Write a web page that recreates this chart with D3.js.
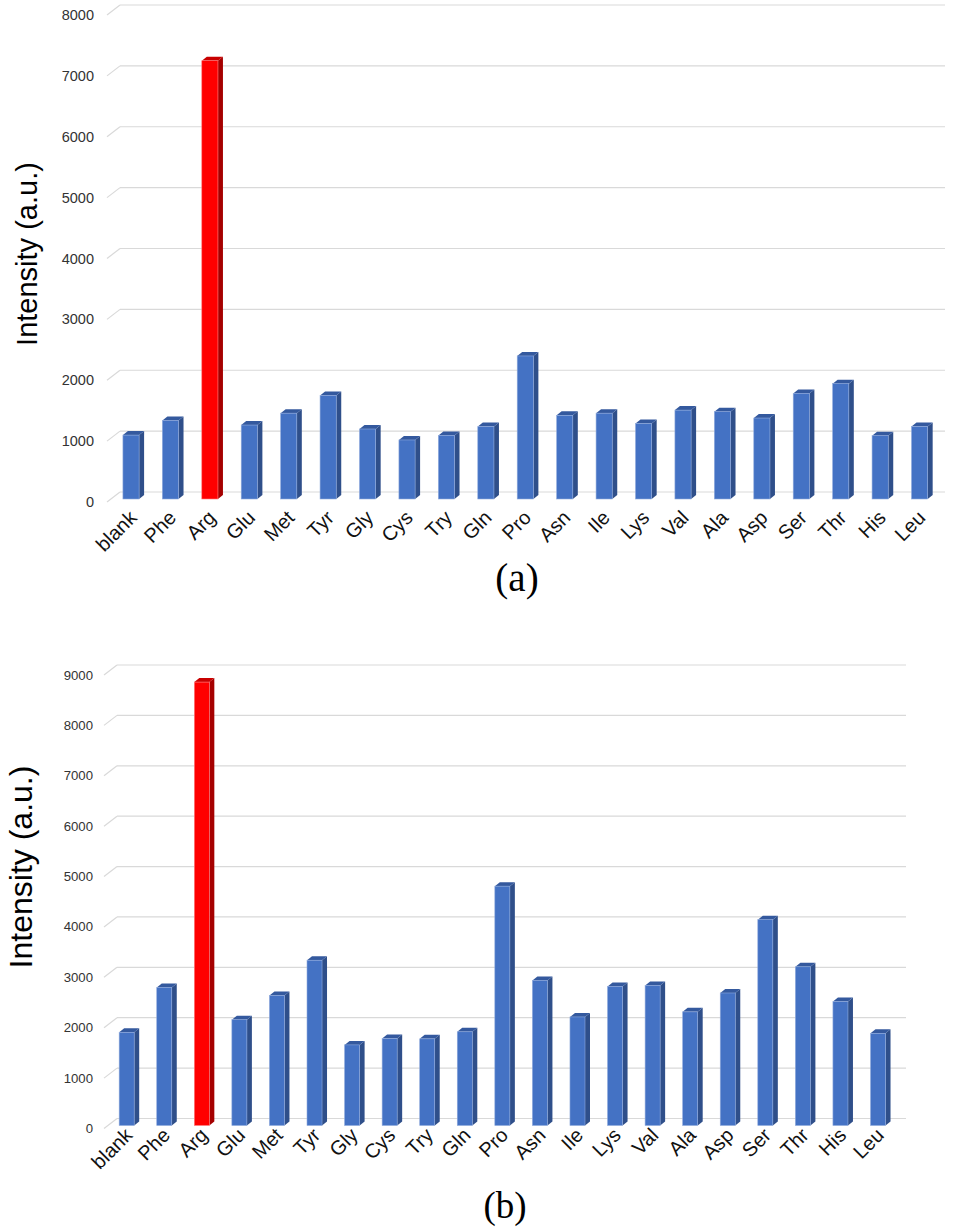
<!DOCTYPE html>
<html lang='en'>
	<head>
		<title>Intensity bars</title>
		<meta charset=utf-8>
		<script src="https://cdn.jsdelivr.net/npm/d3@7"></script>
		<style>
			body {
				margin: 0;
				background-color: white;
			}
			svg {
				display: block;
			}
			.tick-label {
				font-family: "Liberation Sans", Arial, sans-serif;
				fill: #333;
			}
			.cat-label {
				font-family: "Liberation Sans", Arial, sans-serif;
				fill: #111;
			}
			.caption {
				font-family: "Liberation Serif", "Times New Roman", serif;
				fill: #000;
			}
		</style>
	</head>
	<body>
		<svg id='chart' width="953" height="1230"></svg>
	</body>

	<script>
		// data
		var categories = ["blank", "Phe", "Arg", "Glu", "Met", "Tyr", "Gly", "Cys", "Try", "Gln", "Pro",
			"Asn", "Ile", "Lys", "Val", "Ala", "Asp", "Ser", "Thr", "His", "Leu"];
		var valuesA = [1050, 1290, 7200, 1215, 1410, 1700, 1150, 970, 1045, 1190, 2350,
			1375, 1410, 1240, 1460, 1435, 1330, 1735, 1895, 1040, 1190];
		var valuesB = [1850, 2740, 8800, 2100, 2580, 3280, 1600, 1725, 1720, 1860, 4750,
			2880, 2155, 2760, 2780, 2255, 2630, 4085, 3150, 2460, 1830];
		var ticksA = [0, 1000, 2000, 3000, 4000, 5000, 6000, 7000, 8000];
		var ticksB = [0, 1000, 2000, 3000, 4000, 5000, 6000, 7000, 8000, 9000];
		var highlight = "Arg";
		var captions = ["(a)", "(b)"];

		var svg = d3.select("#chart");

		// draw one panel; p holds the layout for that panel
		function drawPanel(values, ticks, caption, p) {
			var g = svg.append('g');

			// back wall scale and front (bar) scale differ by the depth offset
			var yBack = d3.scaleLinear().domain([0, d3.max(ticks)]).range([p.back0, p.backTop]);
			var x = d3.scaleBand().domain(categories).range([p.x0, p.x1])
				.paddingInner(p.padIn).paddingOuter(p.padIn / 2);
			var bw = x.bandwidth();
			var dx = 5, dy = 4;

			// gridlines with the little diagonal at the left
			ticks.forEach(function(t) {
				var yy = yBack(t);
				g.append('line').attr('x1', p.gridL).attr('y1', yy).attr('x2', p.gridR).attr('y2', yy)
					.attr('stroke', '#d9d9d9').attr('stroke-width', 1.2);
				g.append('line').attr('x1', p.gridL - 13).attr('y1', yy + 10).attr('x2', p.gridL).attr('y2', yy)
					.attr('stroke', '#d9d9d9').attr('stroke-width', 1.2);
				g.append('text').attr('class', 'tick-label').attr('x', p.labelR).attr('y', yy + 10)
					.attr('text-anchor', 'end').attr('dominant-baseline', 'central')
					.style('font-size', p.tickSize + 'px').text(t);
			});

			// 3D-looking bars: front, side, top
			categories.forEach(function(c, i) {
				var isHi = (c === highlight);
				var front = isHi ? '#ff0000' : '#4472c4';
				var side = isHi ? '#a50000' : '#2f4f8a';
				var top = isHi ? '#c80000' : '#34599e';
				var xl = x(c);
				var yt = yBack(values[i]) + p.depth;
				var yb = yBack(0) + p.depth;

				g.append('polygon')
					.attr('points', [[xl + bw, yt], [xl + bw + dx, yt - dy], [xl + bw + dx, yb - dy], [xl + bw, yb]].join(' '))
					.attr('fill', side);
				g.append('polygon')
					.attr('points', [[xl, yt], [xl + dx, yt - dy], [xl + bw + dx, yt - dy], [xl + bw, yt]].join(' '))
					.attr('fill', top);
				g.append('rect').attr('x', xl).attr('y', yt).attr('width', bw).attr('height', yb - yt)
					.attr('fill', front).attr('stroke', isHi ? '#ff8080' : '#8faadc').attr('stroke-width', 0.6);
			});

			// category labels at -45 degrees
			categories.forEach(function(c) {
				var ax = x(c) + bw / 2 + p.catDx;
				var ay = yBack(0) + p.depth + p.catDy;
				g.append('text').attr('class', 'cat-label')
					.attr('transform', 'translate(' + ax + ',' + ay + ') rotate(-45)')
					.attr('text-anchor', 'end')
					.style('font-size', p.catSize + 'px').text(c);
			});

			// y axis title
			g.append('text').attr('class', 'tick-label')
				.attr('transform', 'translate(' + p.titleX + ',' + p.titleY + ') rotate(-90)')
				.attr('text-anchor', 'middle').style('fill', '#000')
				.style('font-size', p.titleSize + 'px').text('Intensity (a.u.)');

			// panel caption
			g.append('text').attr('class', 'caption').attr('x', p.capX).attr('y', p.capY)
				.attr('text-anchor', 'middle').style('font-size', p.capSize + 'px').text(caption);
		}

		drawPanel(valuesA, ticksA, captions[0], {
			back0: 492, backTop: 5, depth: 7,
			x0: 111.3, x1: 939.3, padIn: 0.59,
			gridL: 120, gridR: 945, labelR: 94, tickSize: 14.5,
			catDx: 7, catDy: 20, catSize: 20,
			titleX: 37, titleY: 254, titleSize: 29,
			capX: 517, capY: 591, capSize: 39
		});

		drawPanel(valuesB, ticksB, captions[1], {
			back0: 1118.5, backTop: 665, depth: 7,
			x0: 107.9, x1: 896.8, padIn: 0.6,
			gridL: 117, gridR: 906, labelR: 93, tickSize: 13.2,
			catDx: 7, catDy: 11, catSize: 20,
			titleX: 32, titleY: 867, titleSize: 32,
			capX: 505, capY: 1218, capSize: 37
		});
	</script>
</html>
